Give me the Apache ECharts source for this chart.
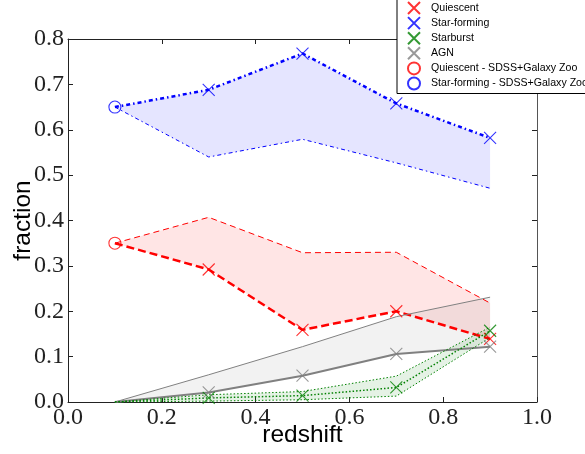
<!DOCTYPE html>
<html>
<head>
<meta charset="utf-8">
<script src="https://cdn.jsdelivr.net/npm/echarts@6/dist/echarts.min.js"></script>
<style>html,body{margin:0;padding:0;background:#fff;overflow:hidden;width:585px;height:454px;}#chart{width:640px;height:454px;}</style>
</head>
<body>
<div id="chart"></div>
<script>
// ---- data ----
var redshift = [0.1, 0.3, 0.5, 0.7, 0.9];
var zMeasured = [0.3, 0.5, 0.7, 0.9];

var sfMain  = [0.65, 0.688, 0.768, 0.658, 0.582];
var sfLow   = [0.65, 0.54, 0.579, 0.527, 0.471];
var sfPts   = [0.688, 0.768, 0.658, 0.582];

var qMain   = [0.35, 0.292, 0.159, 0.200, 0.139];
var qHigh   = [0.35, 0.407, 0.329, 0.330, 0.218];
var qPts    = [0.292, 0.159, 0.200, 0.139];

var agnMain = [0.0, 0.021, 0.058, 0.106, 0.122];
var agnHigh = [0.0, 0.060, 0.122, 0.188, 0.231];
var agnPts  = [0.021, 0.058, 0.106, 0.122];

var sbMain  = [0.0, 0.009, 0.014, 0.032, 0.157];
var sbHigh  = [0.0, 0.016, 0.023, 0.057, 0.165];
var sbLow   = [0.0, 0.002, 0.005, 0.013, 0.142];
var sbPts   = [0.009, 0.014, 0.032, 0.157];

var sdssZ   = [0.1];
var sdssQ   = [0.35];
var sdssSF  = [0.65];

var legendNames = ['Quiescent', 'Star-forming', 'Starburst', 'AGN',
                   'Quiescent - SDSS+Galaxy Zoo', 'Star-forming - SDSS+Galaxy Zoo'];

function pairs(xs, ys) { return xs.map(function (x, i) { return [x, ys[i]]; }); }

var CROSS = 'path://M0,0L10,10M10,0L0,10';

function band(upper, lower, fill) {
  return {
    type: 'custom', silent: true, z: 1,
    data: [0],
    renderItem: function (params, api) {
      var pts = [];
      for (var i = 0; i < redshift.length; i++) pts.push(api.coord([redshift[i], upper[i]]));
      for (var j = redshift.length - 1; j >= 0; j--) pts.push(api.coord([redshift[j], lower[j]]));
      return { type: 'polygon', shape: { points: pts }, style: { fill: fill } };
    }
  };
}
function line(ys, color, width, dash) {
  return {
    type: 'line', data: pairs(redshift, ys), symbol: 'none', silent: true, z: 2,
    lineStyle: { color: color, width: width, type: dash }
  };
}
function markers(name, xs, ys, symbol, color, size) {
  return {
    name: name, type: 'scatter', data: pairs(xs, ys), symbol: symbol, symbolSize: size, z: 5,
    itemStyle: { color: 'rgba(0,0,0,0)', borderColor: color, borderWidth: 1.1 }
  };
}

var serif = 'Liberation Serif';
var sans = 'Liberation Sans';

var chart = echarts.init(document.getElementById('chart'), null, { renderer: 'canvas' });
chart.setOption({
  animation: false,
  backgroundColor: '#fff',
  grid: { left: 68, right: 103, top: 39, bottom: 52, containLabel: false, outerBoundsMode: 'none' },
  xAxis: [{
    type: 'value', min: 0, max: 1, interval: 0.2,
    name: 'redshift', nameLocation: 'middle', nameGap: 21, nameMoveOverlap: false,
    nameTextStyle: { fontFamily: sans, fontSize: 24.5, color: '#000' },
    axisLine: { show: true, onZero: false, lineStyle: { color: '#222', width: 1 } },
    axisTick: { show: true, inside: true, length: 5, lineStyle: { color: '#222' } },
    axisLabel: { fontFamily: serif, fontSize: 24, color: '#222', margin: 4,
      formatter: function (v) { return v.toFixed(1); } },
    splitLine: { show: false }
  }, {
    type: 'value', min: 0, max: 1, interval: 0.2, position: 'top',
    axisLine: { show: true, onZero: false, lineStyle: { color: '#222', width: 1 } },
    axisTick: { show: true, inside: true, length: 5, lineStyle: { color: '#222' } },
    axisLabel: { show: false }, splitLine: { show: false }
  }],
  yAxis: [{
    type: 'value', min: 0, max: 0.8, interval: 0.1,
    name: 'fraction', nameLocation: 'middle', nameGap: 32, nameMoveOverlap: false,
    nameTextStyle: { fontFamily: sans, fontSize: 24.5, color: '#000' },
    axisLine: { show: true, onZero: false, lineStyle: { color: '#222', width: 1 } },
    axisTick: { show: true, inside: true, length: 5, lineStyle: { color: '#222' } },
    axisLabel: { fontFamily: serif, fontSize: 24, color: '#222', margin: 4,
      formatter: function (v) { return v.toFixed(1); } },
    splitLine: { show: false }
  }, {
    type: 'value', min: 0, max: 0.8, interval: 0.1, position: 'right',
    axisLine: { show: true, onZero: false, lineStyle: { color: '#555', width: 1 } },
    axisTick: { show: true, inside: true, length: 5, lineStyle: { color: '#222' } },
    axisLabel: { show: false }, splitLine: { show: false }
  }],
  legend: {
    orient: 'vertical', left: 397, top: -1,
    backgroundColor: '#fff', borderColor: '#000', borderWidth: 1, borderRadius: 0,
    padding: [2, 4, 3, 10],
    itemWidth: 24, itemHeight: 12, itemGap: 1.1,
    textStyle: { fontFamily: sans, fontSize: 10.6, lineHeight: 12, color: '#000' },
    data: legendNames,
    z: 20
  },
  series: [
    band(sfMain, sfLow, 'rgba(0,0,255,0.1)'),
    band(qHigh, qMain, 'rgba(255,0,0,0.1)'),
    band(agnHigh, agnMain, 'rgba(128,128,128,0.1)'),
    band(sbHigh, sbLow, 'rgba(0,128,0,0.1)'),
    line(sfLow, '#0000ff', 1, [4, 3, 1.5, 3]),
    line(sfMain, '#0000ff', 2.5, [4, 3, 1.5, 3]),
    line(qHigh, '#ff0000', 1, [6, 4]),
    line(qMain, '#ff0000', 2.5, [8, 4]),
    line(agnHigh, '#808080', 1, 'solid'),
    line(agnMain, '#808080', 2, 'solid'),
    line(sbHigh, '#008000', 1, [1.5, 2]),
    line(sbLow, '#008000', 1, [1.5, 2]),
    line(sbMain, '#008000', 1.5, [1.5, 2]),
    markers(legendNames[0], zMeasured, qPts, CROSS, '#ff0000', 12),
    markers(legendNames[1], zMeasured, sfPts, CROSS, '#0000ff', 12),
    markers(legendNames[2], zMeasured, sbPts, CROSS, '#008000', 12),
    markers(legendNames[3], zMeasured, agnPts, CROSS, '#808080', 12),
    markers(legendNames[4], sdssZ, sdssQ, 'circle', '#ff0000', 12),
    markers(legendNames[5], sdssZ, sdssSF, 'circle', '#0000ff', 12)
  ]
});
</script>
</body>
</html>
